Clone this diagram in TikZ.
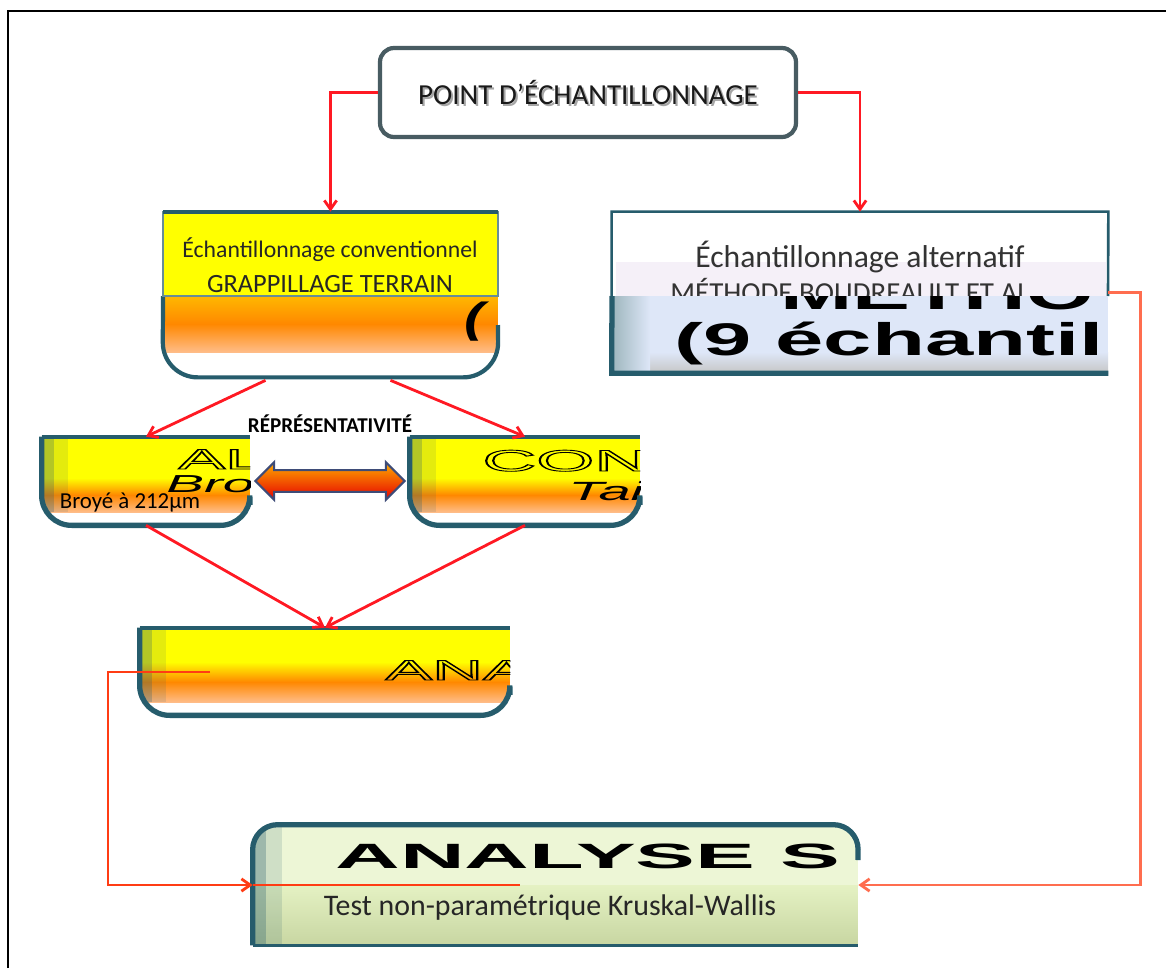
\documentclass[tikz,border=0pt]{standalone}
\usepackage{fontspec}
\usepackage{graphicx}
\setmainfont{Carlito}
\newfontfamily\widefont{Liberation Sans}
\usetikzlibrary{arrows.meta,positioning,fit,calc,shapes.arrows}

\definecolor{rimteal}{RGB}{38,92,108}
\definecolor{rimgray}{RGB}{72,92,98}
\definecolor{gelyellow}{RGB}{255,255,0}
\definecolor{gelorange}{RGB}{255,136,0}
\definecolor{gelpeach}{RGB}{255,188,135}
\definecolor{linkred}{RGB}{255,25,35}
\definecolor{loopred}{RGB}{255,60,20}
\definecolor{altblue}{RGB}{222,231,248}
\definecolor{altband}{RGB}{245,240,248}
\definecolor{kwgreen}{RGB}{222,238,180}
\definecolor{arrowrim}{RGB}{62,76,120}

\newcommand{\wide}[2]{\scalebox{#1}[1]{\widefont #2}}
\newcommand{\hollow}[1]{\special{pdf:literal direct 1 Tr 0.5 w}#1\special{pdf:literal direct 0 Tr}}

\begin{document}
\begin{tikzpicture}[x=0.02cm,y=-0.02cm,
    rim/.style={draw=rimteal,line width=2.4pt},
    link/.style={draw=linkred,line width=1.6pt,-{Straight Barb[length=5pt,width=7pt]}},
    loop/.style={draw=loopred,line width=1.6pt,-{Straight Barb[length=5pt,width=7pt]}},
    box/.style={inner sep=0pt},
    txt/.style={font=\fontsize{13.5}{20}\selectfont,align=center,text=black!85},
    gel/.style={top color=gelyellow,bottom color=gelpeach,middle color=gelorange}]

\useasboundingbox (0,0) rectangle (1166,968);
\fill[white] (0,0) rectangle (1166,968);
\draw[line width=1.2pt] (8,968) -- (8,11) -- (1166,11);

% point d'echantillonnage
\node[box,fit={(380,48) (796,137)},draw=rimgray,line width=2.4pt,rounded corners=8pt,fill=white] (point) {};
\node[font=\fontsize{16.5}{18}\selectfont,text=gray!70] (pointshade) at ([shift={(2,2)}]point.center) {POINT D'ÉCHANTILLONNAGE};
\node[font=\fontsize{16.5}{18}\selectfont,text=black!90] (pointlabel) at (point.center) {POINT D'ÉCHANTILLONNAGE};

% echantillonnage conventionnel
\node[box,fit={(163,212) (498,377)}] (conv) {};
\begin{scope}
  \clip[rounded corners=0.7cm] (conv.north west) -- (conv.south west) -- (conv.south east) -- (conv.north east);
  \fill[top color=gelorange!60!gelyellow,bottom color=gelpeach,middle color=gelorange] (163,296) rectangle (498,352);
  \node[anchor=base west,inner sep=0pt,font=\fontsize{24}{24}\selectfont] (convrest) at (464,332) {\wide{1.4}{\bfseries\itshape (}};
\end{scope}
\draw[rim,rounded corners=0.7cm] (163,296) -- (conv.south west) -- (conv.south east) -- (498,325);
\draw[draw=rimteal!70,line width=1.2pt,fill=gelyellow] (163,212) rectangle (498,296);
\draw[rimteal,line width=2pt] (163,212) -- (498,212);
\node[txt] (convlabel) at (330,265) {Échantillonnage conventionnel\\{\fontsize{15}{20}\selectfont GRAPPILLAGE TERRAIN}};

% echantillonnage alternatif
\node[box,fit={(612,212) (1108,373)}] (alt) {};
\draw[draw=rimteal,line width=1.5pt,fill=white] (alt.south west) -- (alt.north west) -- (alt.north east) -- (1108,296);
\fill[altband] (616,262) rectangle (1106,296);
\node[font=\fontsize{18}{20}\selectfont,text=black!80] (altlabel) at (860,257) {Échantillonnage alternatif};
\node[inner sep=0pt,font=\fontsize{16.5}{18}\selectfont,text=black!80] (altmethod) at (850,290) {MÉTHODE BOUDREAULT ET AL};
\begin{scope}
  \clip (612,296) rectangle (1108,373);
  \fill[altblue] (612,296) rectangle (1108,373);
  \fill[top color=altblue,bottom color=gray!45] (612,352) rectangle (1108,373);
  \fill[left color=rimteal!45,right color=altblue] (612,296) rectangle (650,373);
  \node[anchor=base west,inner sep=0pt,font=\fontsize{26}{26}\selectfont] (althead) at (780,309) {\wide{1.9}{\bfseries METHO}};
  \node[anchor=base west,inner sep=0pt,font=\fontsize{26}{26}\selectfont] (altcount) at (674,355) {\wide{1.9}{\bfseries (9 échantil}};
\end{scope}
\draw[rimteal,line width=3pt] (612,296) -- (alt.south west) -- (alt.south east);

% broyage
\node[box,fit={(42,437) (250,525)}] (grind) {};
\begin{scope}
  \clip[rounded corners=0.6cm] (grind.north west) -- (grind.south west) -- (grind.south east) -- (grind.north east);
  \fill[gelyellow] (42,437) rectangle (250,478);
  \fill[gel] (42,478) rectangle (250,512);
  \fill[rimteal,opacity=0.35] (42,437) rectangle (54,512);
  \fill[rimteal,opacity=0.12] (54,437) rectangle (68,512);
  \node[inner sep=0pt,font=\fontsize{13}{14}\selectfont] (grindsize) at (130,503) {Broyé à 212µm};
  \node[anchor=base west,inner sep=0pt,font=\fontsize{16}{16}\selectfont] (grindhead) at (178,469) {\wide{2.5}{\hollow{AL}}};
  \node[anchor=base west,inner sep=0pt,font=\fontsize{14}{14}\selectfont] (grindsub) at (166,492) {\wide{2.3}{\itshape Bro}};
\end{scope}
\draw[rim] (grind.north west) -- (grind.north east);
\draw[rim,line width=3pt,rounded corners=0.6cm] (grind.north west) -- (grind.south west) -- (grind.south east) -- (250,505);

% taille
\node[box,fit={(410,437) (640,525)}] (taille) {};
\begin{scope}
  \clip[rounded corners=0.6cm] (taille.north west) -- (taille.south west) -- (taille.south east) -- (taille.north east);
  \fill[gelyellow] (410,437) rectangle (640,478);
  \fill[gel] (410,478) rectangle (640,512);
  \fill[rimteal,opacity=0.35] (410,437) rectangle (422,512);
  \fill[rimteal,opacity=0.12] (422,437) rectangle (436,512);
  \node[anchor=base west,inner sep=0pt,font=\fontsize{17}{17}\selectfont] (taillehead) at (482,471) {\wide{2.5}{\hollow{CON}}};
  \node[anchor=base west,inner sep=0pt,font=\fontsize{15}{15}\selectfont] (taillesub) at (568,500) {\wide{2.2}{\itshape Tai}};
\end{scope}
\draw[rim] (taille.north west) -- (taille.north east);
\draw[rim,line width=3pt,rounded corners=0.6cm] (taille.north west) -- (taille.south west) -- (taille.south east) -- (640,505);

% representativite
\node[double arrow,draw=arrowrim,line width=1.2pt,top color=gelorange!70!gelyellow,bottom color=red!90!black,
      minimum height=85pt,inner xsep=0pt,inner ysep=5.6pt,double arrow head extend=4.5pt] (repr)
      at ($(grind.east)!0.5!(taille.west)$) {};
\node[font=\bfseries\fontsize{12}{12}\selectfont,above=0.6cm of repr] (reprlabel) {RÉPRÉSENTATIVITÉ};

% analyse
\node[box,fit={(140,628) (510,715)}] (ana) {};
\begin{scope}
  \clip[rounded corners=0.6cm] (ana.north west) -- (ana.south west) -- (ana.south east) -- (ana.north east);
  \fill[gelyellow] (140,628) rectangle (510,662);
  \fill[gel] (140,662) rectangle (510,702);
  \fill[rimteal,opacity=0.35] (140,628) rectangle (152,702);
  \fill[rimteal,opacity=0.12] (152,628) rectangle (166,702);
  \node[anchor=base west,inner sep=0pt,font=\fontsize{16}{16}\selectfont] (anahead) at (385,680) {\wide{2.5}{\hollow{ANA}}};
\end{scope}
\draw[rim] (ana.north west) -- (ana.north east);
\draw[rim,line width=3pt,rounded corners=0.6cm] (ana.north west) -- (ana.south west) -- (ana.south east) -- (510,695);

% analyse statistique
\node[box,fit={(253,825) (858,945)}] (kw) {};
\begin{scope}
  \clip[rounded corners=0.5cm] (kw.south west) -- (kw.north west) -- (kw.north east) -- (kw.south east);
  \fill[kwgreen!55!white] (253,825) rectangle (858,885);
  \fill[top color=kwgreen!80!white,bottom color=kwgreen!90!black] (253,885) rectangle (858,945);
  \fill[rimteal,opacity=0.4] (253,825) rectangle (266,945);
  \fill[rimteal,opacity=0.15] (266,825) rectangle (282,945);
  \node[anchor=base west,inner sep=0pt,font=\fontsize{20}{20}\selectfont] (kwhead) at (335,868) {\wide{2.55}{\bfseries ANALYSE S}};
  \node[font=\fontsize{17}{18}\selectfont,text=black!85] (kwtest) at (550,908) {Test non-paramétrique Kruskal-Wallis};
\end{scope}
\draw[rim,line width=3pt,rounded corners=0.5cm] (kw.south west) -- (kw.north west) -- (kw.north east) -- (858,860);
\draw[rimteal,line width=2pt] (kw.south west) -- (kw.south east);

% liaisons
\draw[link] (point.west) -| (conv.north);
\draw[link] (point.east) -| (alt.north);
\draw[link] ($(conv.south)+(-65,3)$) -- (grind.north);
\draw[link] ($(conv.south)+(60,3)$) -- (taille.north);
\draw[link] (grind.south) -- (ana.north);
\draw[link] (taille.south) -- (ana.north);
\coordinate (anaout) at (210,672);
\draw[loop] (anaout) -- (108,672) |- (kw.west);
\draw[loopred,line width=1.6pt] (kw.west) -- (520,885);
\draw[loop,draw=loopred!75!white] (alt.east) -- ++(32,0) |- (kw.east);
\end{tikzpicture}
\end{document}
